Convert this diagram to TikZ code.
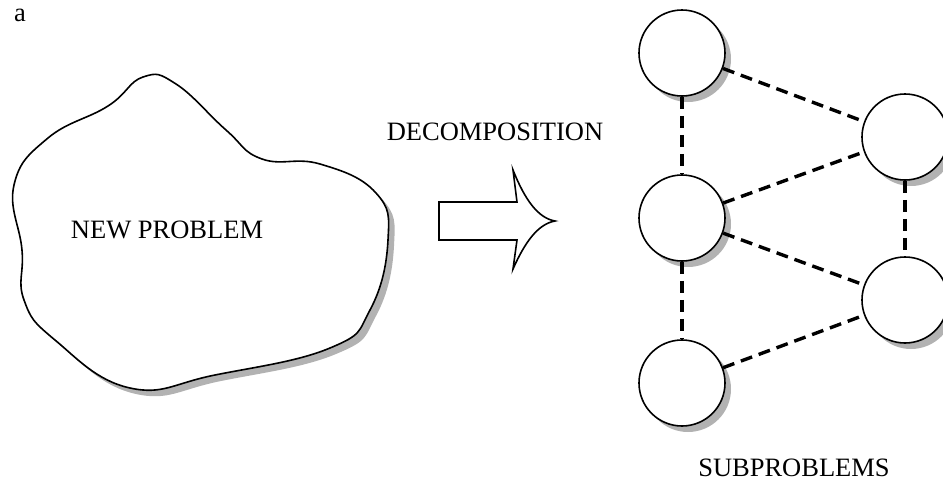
\documentclass[tikz,border=0pt]{standalone}
\usepackage{fontspec}
\setmainfont{Liberation Serif}
\usetikzlibrary{shadows}

\tikzset{
  grayshadow/.style={drop shadow={shadow xshift=6pt,shadow yshift=-6pt,fill=black!30,opacity=1}},
  subnode/.style={circle,draw,line width=1.6pt,fill=white,minimum size=86pt,inner sep=0pt,grayshadow},
  link/.style={line width=3.4pt,dash pattern=on 12pt off 7pt},
}

\begin{document}
\begin{tikzpicture}[x=1pt,y=-1pt,font=\fontsize{26.5}{30}\selectfont]
\useasboundingbox (0,0) rectangle (943,483);

 \node (lbl_a) at (20,15) {a};

 % the problem blob
 \path [draw,line width=1.6pt,fill=white,grayshadow] plot [smooth cycle,tension=0.75] coordinates {
   (143,77) (108,106) (48,138) (14,185) (22,250) (24,300)
   (55,340) (130,388) (215,375) (330,348) (370,310)
   (388,240) (376,193) (320,164) (262,159) (226,130) (176,84)};
 \node (node_prob) at (167,230) {NEW PROBLEM};

 % decomposition arrow
 \node (node_dec) at (495,132) {DECOMPOSITION};
 \draw [line width=1.6pt,line join=miter] (439,202) -- (517,202) -- (513,170)
   .. controls (525,200) and (538,218) .. (555,221)
   .. controls (538,224) and (525,242) .. (513,269)
   -- (517,240) -- (439,240) -- cycle;

 % subproblems
 \node (node_1) at (682,53) [subnode] {};
 \node (node_2) at (682,218) [subnode] {};
 \node (node_3) at (682,383) [subnode] {};
 \node (node_4) at (905,137) [subnode] {};
 \node (node_5) at (905,300) [subnode] {};
 \node (node_sub) at (794,468) {SUBPROBLEMS};

  \draw [link] (node_1) -- (node_2);
  \draw [link] (node_2) -- (node_3);
  \draw [link] (node_1) -- (node_4);
  \draw [link] (node_2) -- (node_4);
  \draw [link] (node_2) -- (node_5);
  \draw [link] (node_3) -- (node_5);
  \draw [link] (node_4) -- (node_5);

\end{tikzpicture}
\end{document}
